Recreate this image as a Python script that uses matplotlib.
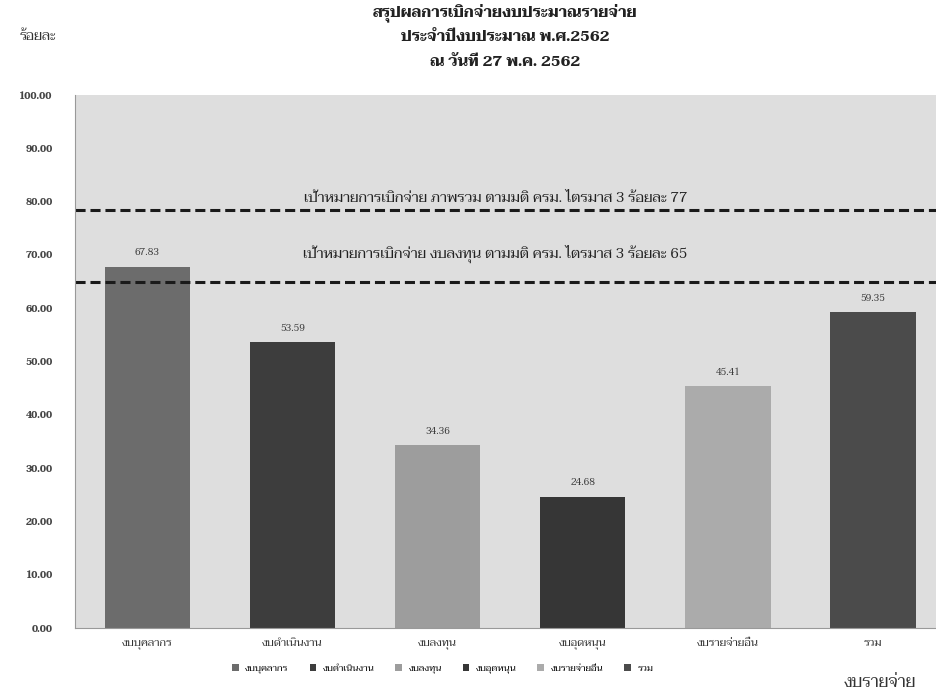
import matplotlib
matplotlib.use("Agg")
import matplotlib.pyplot as plt

plt.rcParams["font.family"] = ["Taviraj", "Noto Serif Thai", "Sarabun", "DejaVu Serif"]

categories = ["งบบุคลากร", "งบดำเนินงาน", "งบลงทุน", "งบอุดหนุน", "งบรายจ่ายอื่น", "รวม"]
values = [67.83, 53.59, 34.36, 24.68, 45.41, 59.35]
bar_colors = ["#6c6c6c", "#3d3d3d", "#9d9d9d", "#363636", "#ababab", "#4b4b4b"]

target_total = 78.5     # drawn position of the 77% line in the picture
target_invest = 65
target_total_text = "เป้าหมายการเบิกจ่าย ภาพรวม ตามมติ ครม. ไตรมาส 3 ร้อยละ 77"
target_invest_text = "เป้าหมายการเบิกจ่าย งบลงทุน ตามมติ ครม. ไตรมาส 3 ร้อยละ 65"

title_lines = ["สรุปผลการเบิกจ่ายงบประมาณรายจ่าย",
               "ประจำปีงบประมาณ พ.ศ.2562",
               "ณ วันที่ 27 พ.ค. 2562"]

fig = plt.figure(figsize=(9.36, 6.94), dpi=100)
ax = fig.add_axes([0.080, 0.095, 0.930, 0.768])
ax.set_facecolor("#dedede")

x = range(len(categories))
bars = ax.bar(x, values, width=0.59, color=bar_colors)

for xi, v in zip(x, values):
    ax.text(xi, v + 1.6, "%.2f" % v, ha="center", va="bottom",
            fontsize=7, color="#333333")

ax.axhline(target_total, color="#1a1a1a", lw=2.2, dashes=(3.3, 1.6))
ax.axhline(target_invest, color="#1a1a1a", lw=2.2, dashes=(3.3, 1.6))
ax.text(2.4, 80.6, target_total_text, ha="center", va="center",
        fontsize=10.5, color="#222222")
ax.text(2.4, 70.3, target_invest_text, ha="center", va="center",
        fontsize=10.5, color="#222222")

ax.set_xlim(-0.5, 5.5)
ax.set_ylim(0, 100)
ax.set_yticks(range(0, 101, 10))
ax.set_yticklabels(["%.2f" % t for t in range(0, 101, 10)],
                   fontsize=7, fontweight="bold", color="#444444")
ax.set_xticks(list(x))
ax.set_xticklabels(categories, fontsize=8, color="#333333")
ax.tick_params(axis="both", length=0)
ax.tick_params(axis="y", pad=16)
ax.tick_params(axis="x", pad=8)

for side in ["top", "right"]:
    ax.spines[side].set_visible(False)
for side in ["left", "bottom"]:
    ax.spines[side].set_color("#999999")
    ax.spines[side].set_linewidth(0.8)

ax.legend(bars.patches, categories, loc="center", bbox_to_anchor=(0.473, 0.037),
          bbox_transform=fig.transFigure, ncol=6, frameon=False, fontsize=6.8,
          handlelength=0.7, handleheight=0.7, columnspacing=2.2, handletextpad=0.7)

for i, line in enumerate(title_lines):
    fig.text(0.54, 0.982 - i * 0.036, line, ha="center", va="center",
             fontsize=11, fontweight="bold", color="#222222")

fig.text(0.041, 0.947, "ร้อยละ", ha="center", va="center", fontsize=10, color="#333333")
fig.text(0.94, 0.016, "งบรายจ่าย", ha="center", va="center", fontsize=12, color="#333333")

fig.savefig("out.png", dpi=100)
